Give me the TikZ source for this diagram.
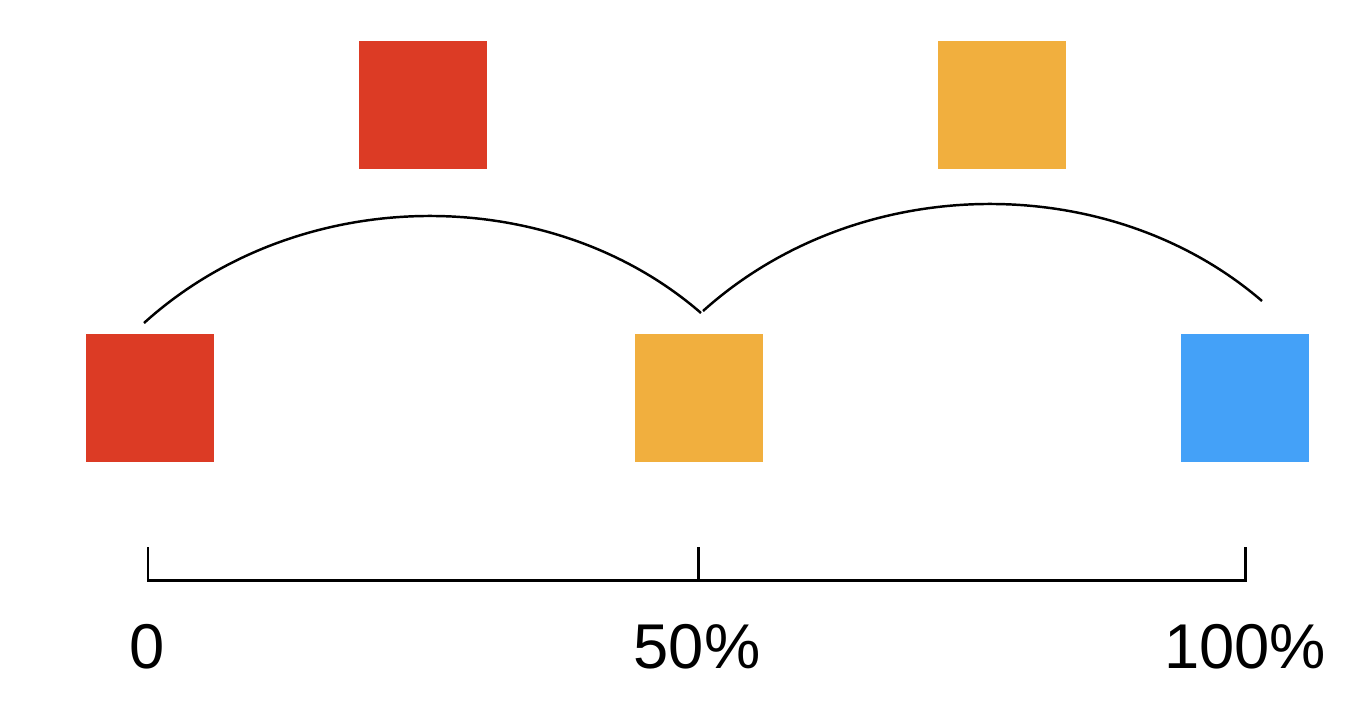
\documentclass[tikz,border=0pt]{standalone}
\usepackage{fontspec}
\setmainfont{Liberation Sans}
\usetikzlibrary{positioning, calc}
\definecolor{keyred}{HTML}{DC3B25}
\definecolor{keyorange}{HTML}{F1AF3E}
\definecolor{keyblue}{HTML}{44A1F8}

\tikzset{
  frame/.style={minimum size=1.28cm, inner sep=0pt, outer sep=0pt},
  tick/.style={black, line width=0.85pt},
  pct/.style={anchor=base, inner sep=0pt, font=\fontsize{18}{22}\selectfont}
}

\begin{document}
\begin{tikzpicture}
  \useasboundingbox (0,0) rectangle (13.72,7.18);
  % Keyframes on the timeline
  \node[frame, fill=keyred] (k0) at (1.495,3.20) {};
  \node[frame, fill=keyorange] (k1) at (6.985,3.20) {};
  \node[frame, fill=keyblue] (k2) at (12.45,3.20) {};
  % Interpolated colours above the arcs
  \node[frame, fill=keyred] (m0) at (4.23,6.13) {};
  \node[frame, fill=keyorange] (m1) at (10.02,6.13) {};
  % Arcs between keyframes
  \coordinate (a0) at ($(k0.north)+(-0.055,0.11)$);
  \coordinate (a1) at ($(k1.north)+(0.025,0.21)$);
  \coordinate (a2) at ($(k1.north)+(0.045,0.23)$);
  \coordinate (a3) at ($(k2.north)+(0.17,0.33)$);
  \draw[line width=0.7pt] (a0) .. controls (3.0,5.36) and (5.5,5.36) .. (a1);
  \draw[line width=0.7pt] (a2) .. controls (8.6,5.48) and (11.1,5.48) .. (a3);
  % Scale
  \coordinate (s0) at (1.48,1.38);
  \coordinate (s1) at (6.98,1.38);
  \coordinate (s2) at (12.45,1.38);
  \draw[tick] ($(s0)+(0,0.33)$) -- (s0) -- (s2) -- ($(s2)+(0,0.33)$);
  \draw[tick] (s1) -- ($(s1)+(0,0.33)$);
  % Labels
  \node[pct] (l0) at (1.47,0.50) {0};
  \node[pct] (l1) at (6.97,0.50) {50\%};
  \node[pct] (l2) at (12.45,0.50) {100\%};
\end{tikzpicture}
\end{document}
